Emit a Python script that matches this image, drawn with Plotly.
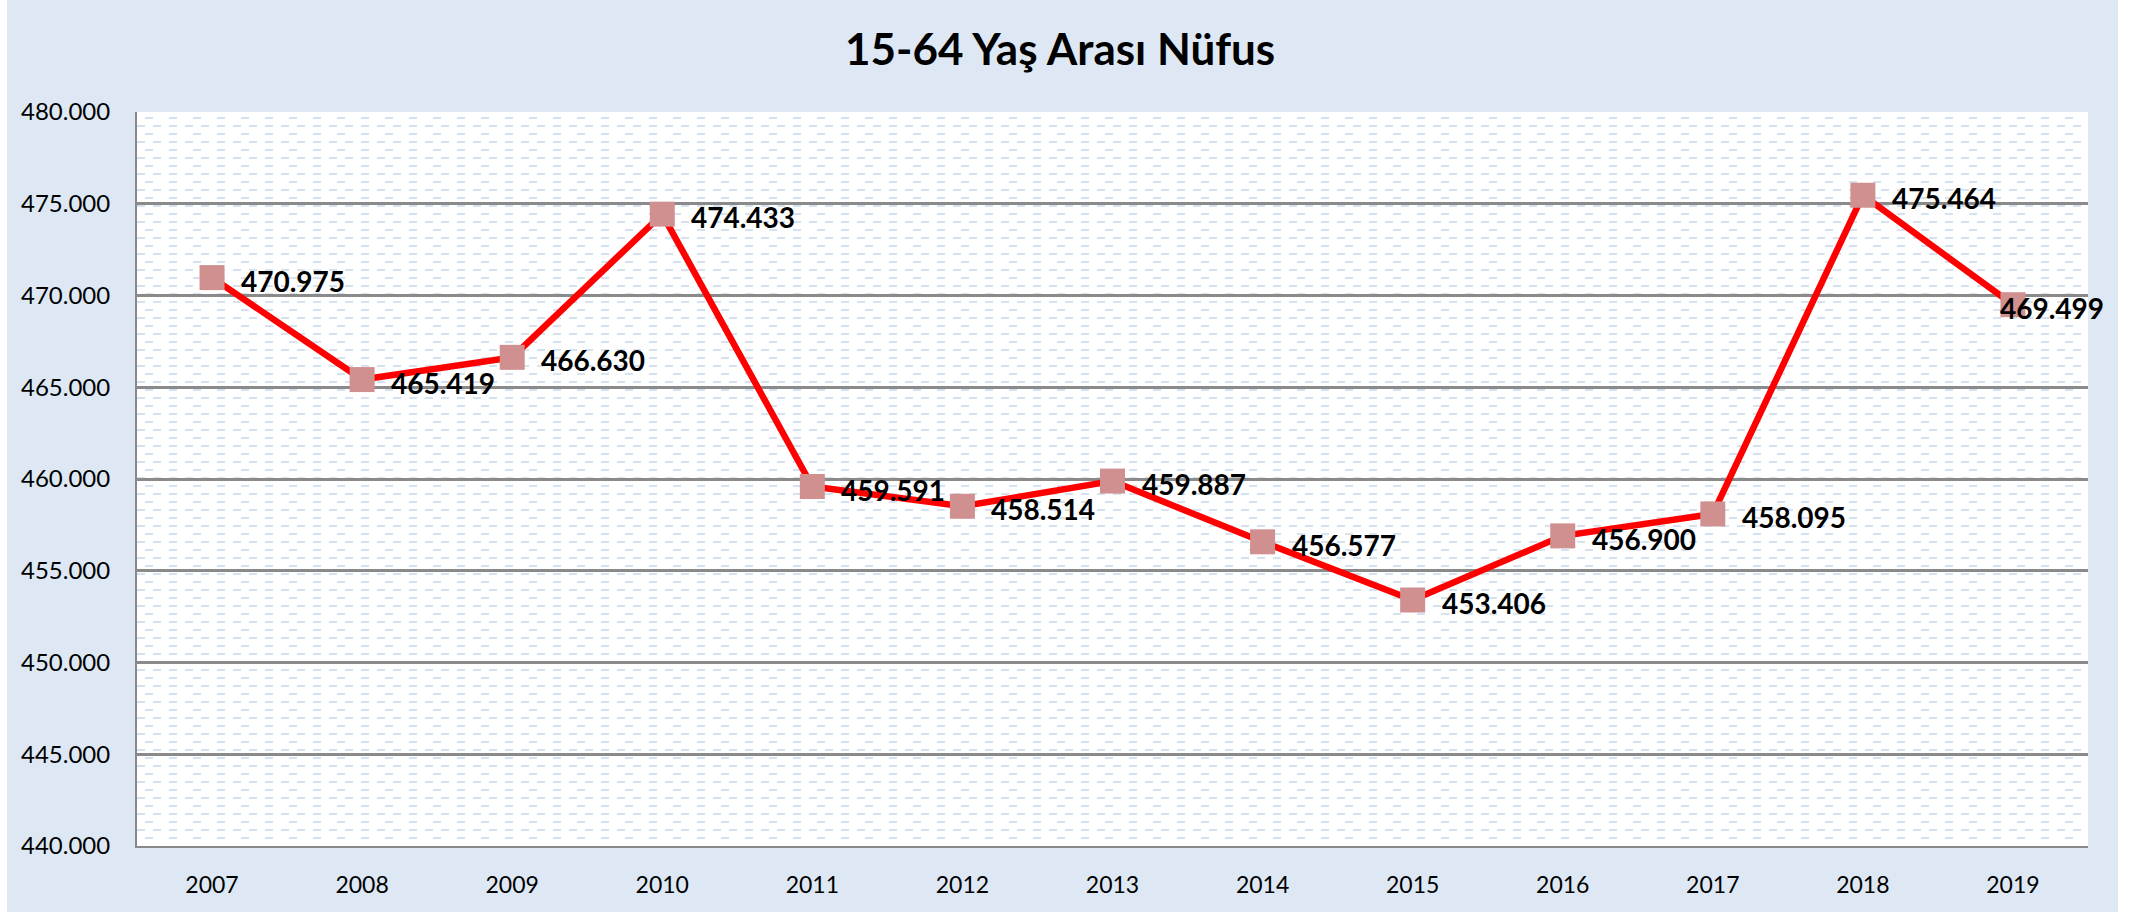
import plotly.graph_objects as go

years = ["2007", "2008", "2009", "2010", "2011", "2012", "2013",
         "2014", "2015", "2016", "2017", "2018", "2019"]
population = [470975, 465419, 466630, 474433, 459591, 458514, 459887,
              456577, 453406, 456900, 458095, 475464, 469499]
title_text = "15-64 Yaş Arası Nüfus"

FONT = "Lato"
BG = "#dde8f4"
Y_MIN, Y_MAX, Y_STEP = 440000, 480000, 5000
HATCH_STEP = 436          # spacing of the background hatch rows (data units)
HATCH_COLOR = "#d6e2f0"

def fmt(v):
    return f"{v:,}".replace(",", ".")

fig = go.Figure()
# invisible helper trace so the overlay axis (second set of hatch rows) is drawn
fig.add_trace(go.Scatter(
    x=years, y=population, yaxis="y2", mode="none",
    hoverinfo="skip", showlegend=False,
))
fig.add_trace(go.Scatter(
    x=years, y=population, mode="lines+markers",
    line=dict(color="#ff0000", width=6.5),
    marker=dict(symbol="square", size=25, color="#d09090",
                line=dict(width=0)),
    hoverinfo="x+y", showlegend=False, cliponaxis=False,
))

annotations = []
for i, v in enumerate(population):
    last = i == len(population) - 1
    annotations.append(dict(
        x=i, y=v, xref="x", yref="y", text=fmt(v), showarrow=False,
        xanchor="left", yanchor="middle",
        xshift=-15 if last else 27, yshift=-3,
        font=dict(family=FONT, size=28, color="#000000", weight="bold"),
    ))

fig.update_layout(
    width=2133, height=912,
    margin=dict(l=137, r=45, t=112, b=66, pad=0),
    paper_bgcolor=BG, plot_bgcolor="#ffffff",
    separators=",.",
    title=dict(text=title_text, x=0.497, xref="container", xanchor="center",
               y=1 - 50 / 912, yref="container", yanchor="middle",
               font=dict(family=FONT, size=44, color="#000000", weight="bold")),
    font=dict(family=FONT, size=23, color="#000000"),
    annotations=annotations,
    shapes=[
        dict(type="rect", xref="paper", yref="paper",
             x0=-137 / 1951, x1=-130 / 1951, y0=-66 / 734, y1=1 + 112 / 734,
             fillcolor="#ffffff", line=dict(width=0), layer="above"),
        dict(type="rect", xref="paper", yref="paper",
             x0=1 + 30 / 1951, x1=1 + 45 / 1951, y0=-66 / 734, y1=1 + 112 / 734,
             fillcolor="#ffffff", line=dict(width=0), layer="above"),
    ],
    yaxis2=dict(
        overlaying="y", side="left", range=[Y_MIN, Y_MAX],
        showticklabels=False, showgrid=False, showline=False, zeroline=False,
        ticks="", dtick=Y_STEP, tick0=Y_MIN,
        minor=dict(tick0=Y_MIN + HATCH_STEP, dtick=2 * HATCH_STEP,
                   showgrid=True, gridcolor=HATCH_COLOR, gridwidth=2,
                   griddash="0px,8px,8px,8px"),
    ),
)

fig.update_xaxes(
    type="category", range=[-0.5, len(years) - 0.5],
    showgrid=False, showline=True, linecolor="#888888", linewidth=2,
    ticks="", ticklabelstandoff=17,
    tickfont=dict(family=FONT, size=23, color="#000000"),
    zeroline=False,
)
fig.layout.yaxis.update(
    range=[Y_MIN, Y_MAX], dtick=Y_STEP, tick0=Y_MIN, tickformat=",d",
    showgrid=True, gridcolor="#8a8a8a", gridwidth=2.5,
    showline=True, linecolor="#888888", linewidth=2, mirror=False,
    ticks="", ticklabelstandoff=20,
    tickfont=dict(family=FONT, size=24, color="#000000"),
    zeroline=False,
    minor=dict(tick0=Y_MIN, dtick=2 * HATCH_STEP, showgrid=True,
               gridcolor=HATCH_COLOR, gridwidth=2, griddash="8px,8px"),
)

fig.write_html("out.html", config={"displayModeBar": False},
               post_script="document.body.style.margin='0';")
